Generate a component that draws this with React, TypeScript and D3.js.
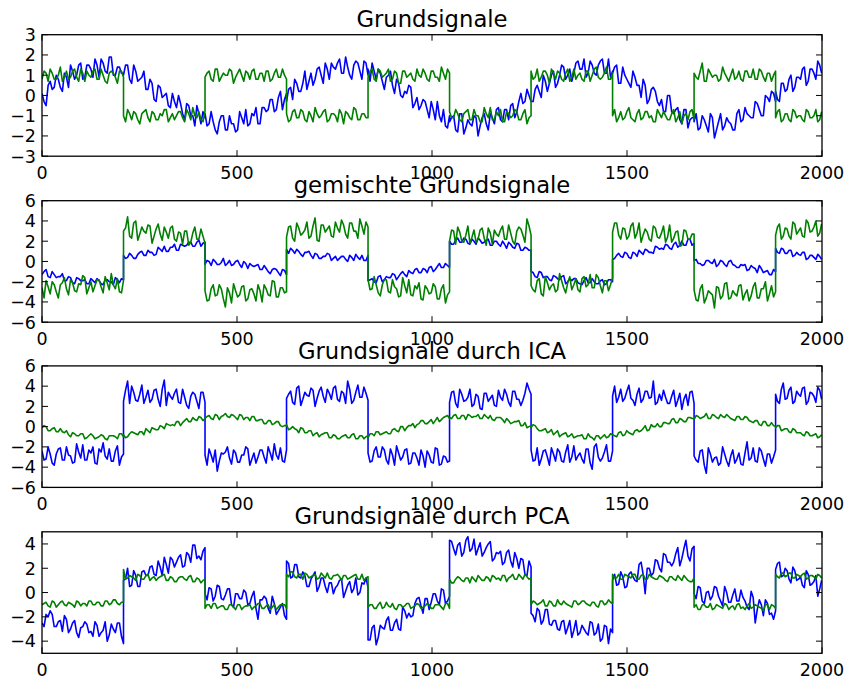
import React from "react";
import * as d3 from "d3";

// Sample indices where the square-wave source flips sign; every series is
// stored segment by segment between these edges so the jumps stay vertical.
const segmentEdges = [0, 209, 418, 627, 836, 1045, 1254, 1463, 1672, 1881, 1999];

const xTicks = [0, 500, 1000, 1500, 2000];
const xDomain = [0, 2000];

const titles = [
  "Grundsignale",
  "gemischte Grundsignale",
  "Grundsignale durch ICA",
  "Grundsignale durch PCA",
];

const yDomainGrund = [-3, 3];
const yDomainGemischt = [-6, 6];
const yDomainIca = [-6, 6];
const yDomainPca = [-5, 5];

const yTicksGrund = [-3, -2, -1, 0, 1, 2, 3];
const yTicksGemischt = [-6, -4, -2, 0, 2, 4, 6];
const yTicksIca = [-6, -4, -2, 0, 2, 4, 6];
const yTicksPca = [-4, -2, 0, 2, 4];

// Each series: main samples per segment (evenly spaced, both edges included)
// and the in-between samples ("Zw") that sit halfway between them.

// Grundsignale: sine source (blue) and square source (green)
const grundBlau = [
  [0.1, -0.5, 0.7, 0.4, 0.8, 0.2, 0.9, 1.5, 0.8, 1.5, 0.8, 1.5, 1.3, 1.8, 0.9, 1.6, 1.1, 1.9, 1.0, 1.4, 1.1],
  [1.0, 1.5, 0.6, 1.2, 0.8, 1.2, 0.3, 0.6, -0.3, 0.4, 0.0, -0.5, 0.1, -0.6, -0.4, -1.2, -0.5, -1.0, -0.5, -1.4, -1.1],
  [-0.9, -1.4, -1.3, -1.9, -1.0, -1.7, -1.0, -1.4, -1.7, -1.1, -0.7, -1.4, -1.0, -1.4, -0.6, -0.8, -0.2, -0.8, -0.1, -0.7, 0.1],
  [-0.3, 0.4, 0.8, 0.2, 0.6, 0.3, 1.1, 0.8, 1.4, 0.6, 1.3, 1.6, 1.3, 1.8, 1.1, 1.4, 0.8, 1.7, 1.2, 1.7, 1.0],
  [1.3, 1.6, 0.8, 1.1, 0.3, 1.0, 0.5, 0.8, 0.0, 0.2, 0.5, -0.6, -0.1, -0.5, -0.3, -1.1, -0.7, -0.3, -1.3, -1.5, -1.0],
  [-1.3, -1.0, -1.8, -0.9, -1.6, -1.4, -1.0, -2.0, -1.1, -1.4, -0.9, -1.4, -0.6, -1.3, -0.7, -0.5, -1.1, -0.3, -0.4, 0.3, -0.3],
  [-0.3, 0.3, 0.2, 1.0, 0.2, 1.0, 0.4, 1.0, 1.4, 1.0, 0.7, 1.6, 1.3, 1.8, 1.1, 1.5, 1.0, 1.7, 1.1, 1.8, 1.2],
  [1.1, 1.5, 0.6, 1.0, 0.6, 1.2, 0.5, -0.1, 0.5, -0.2, 0.4, -0.3, -0.2, -0.8, 0.0, -0.9, -0.6, -1.4, -0.7, -1.2, -1.1],
  [-1.3, -1.7, -1.0, -1.5, -0.9, -2.1, -1.3, -1.7, -1.1, -1.4, -1.7, -0.7, -1.2, -0.9, -1.1, -0.3, -0.7, -1.0, -0.1, 0.2, -0.3],
  [0.2, -0.3, 0.6, 0.3, 1.0, 0.4, 0.9, 1.3, 0.5, 1.3, 1.1, 1.7, 1.1],
];
const grundBlauZw = [
  [-0.3, 0.5, 0.3, 1.0, 0.4, 1.1, 0.4, 1.2, 1.0, 1.6, 0.9, 1.5, 0.9, 1.5, 1.8, 1.2, 1.9, 1.0, 1.4, 1.1],
  [1.5, 0.8, 1.5, 0.7, 0.9, 0.3, 0.8, -0.2, 0.5, -0.1, 0.1, -0.6, -0.3, 0.0, -0.9, -0.4, -1.0, -1.5, -0.9, -0.8],
  [-1.5, -0.8, -1.7, -1.3, -1.0, -1.7, -1.4, -1.8, -0.8, -1.4, -1.5, -0.9, -0.6, -1.4, -0.6, -0.7, -0.2, -0.7, 0.2, -0.2],
  [0.3, -0.2, 0.6, 0.2, 1.2, 0.7, 0.5, 1.3, 1.0, 1.6, 0.8, 1.4, 1.6, 1.1, 1.9, 1.0, 1.5, 1.6, 0.8, 1.6],
  [0.7, 1.2, 1.3, 0.7, 0.9, 1.2, 0.1, 0.6, -0.1, 0.1, 0.4, -0.4, -0.7, -0.2, -0.7, -0.3, -1.2, -1.0, -0.7, -1.6],
  [-1.1, -1.7, -0.9, -1.9, -1.2, -1.5, -1.1, -1.5, -0.9, -1.7, -1.1, -0.7, -1.2, -0.7, -1.2, -0.4, -0.8, 0.1, -0.3, 0.0],
  [-0.3, 0.5, -0.1, 0.7, 0.6, 1.2, 0.6, 1.5, 0.8, 1.3, 1.1, 1.7, 1.3, 0.9, 1.7, 1.1, 1.5, 1.8, 1.1, 0.9],
  [1.4, 0.6, 1.4, 0.8, 0.4, 0.9, 0.5, 0.8, -0.4, 0.3, 0.2, -0.5, -0.8, 0.0, -0.8, -0.7, -1.2, -0.7, -1.6, -1.1],
  [-0.9, -1.6, -1.2, -1.8, -1.1, -1.7, -0.9, -1.5, -1.3, -1.7, -0.9, -1.3, -0.6, -1.0, -1.1, -0.4, -1.0, 0.0, -0.3, 0.1],
  [-0.2, 0.6, 0.2, 0.8, 0.2, 0.9, 0.8, 1.4, 0.7, 1.3, 0.8, 1.5],
];

const grundGruen = [
  [0.8, 1.1, 1.3, 0.8, 1.0, 0.7, 1.2, 0.9, 1.3, 0.7, 1.1, 1.2, 0.9, 1.3, 0.8, 1.0, 0.6, 1.2, 0.9, 1.2, 0.9],
  [-1.0, -0.7, -1.2, -0.9, -1.4, -0.8, -1.1, -0.8, -1.2, -0.9, -0.7, -1.3, -0.9, -1.0, -0.8, -1.3, -0.9, -0.6, -1.1, -1.2, -0.8],
  [0.9, 1.2, 0.7, 1.3, 0.9, 1.0, 1.3, 0.6, 1.1, 1.0, 1.2, 0.8, 1.3, 0.8, 1.1, 1.2, 0.7, 1.1, 0.9, 1.3, 0.8],
  [-0.9, -1.2, -0.7, -1.1, -0.8, -1.3, -1.0, -0.6, -1.1, -0.8, -1.3, -0.9, -1.0, -0.7, -1.4, -0.9, -1.2, -0.7, -1.2, -0.9, -1.1],
  [0.9, 1.3, 0.7, 1.2, 1.0, 1.3, 0.8, 1.1, 0.6, 1.2, 1.0, 0.8, 1.3, 0.9, 1.1, 0.7, 1.2, 0.9, 1.4, 0.8, 1.1],
  [-0.8, -1.1, -0.9, -1.3, -0.8, -1.2, -0.7, -1.0, -1.3, -0.9, -0.6, -1.2, -1.0, -1.3, -0.8, -1.1, -0.7, -1.2, -0.9, -1.4, -1.0],
  [1.2, 0.9, 0.7, 1.2, 1.0, 1.3, 0.8, 1.1, 0.7, 1.3, 0.9, 0.8, 1.1, 0.7, 1.2, 1.0, 1.4, 0.8, 1.1, 0.8, 1.1],
  [-1.0, -1.3, -0.8, -1.1, -0.6, -1.2, -0.9, -1.2, -0.8, -1.1, -1.3, -0.7, -1.1, -1.0, -1.2, -0.7, -1.1, -1.4, -0.9, -0.8, -1.2],
  [1.1, 0.8, 1.6, 0.7, 1.1, 1.0, 0.7, 1.4, 0.9, 1.0, 0.8, 1.2, 0.7, 1.2, 0.9, 0.8, 1.3, 0.9, 1.1, 0.7, 1.2],
  [-1.1, -0.7, -1.2, -0.9, -1.3, -0.8, -1.0, -1.2, -0.7, -1.1, -1.0, -1.3, -0.8],
];
const grundGruenZw = [
  [1.2, 0.7, 1.1, 0.8, 1.4, 0.9, 0.8, 1.2, 0.9, 1.3, 0.7, 1.0, 1.2, 0.8, 1.3, 0.7, 1.1, 1.1, 0.6, 1.2],
  [-1.3, -0.9, -0.8, -1.2, -0.9, -0.7, -1.3, -0.9, -1.2, -1.0, -0.7, -1.1, -1.2, -0.8, -1.1, -0.7, -1.2, -1.0, -0.8, -1.3],
  [1.1, 0.8, 1.3, 0.7, 1.1, 1.0, 1.2, 0.9, 1.3, 0.7, 1.1, 1.2, 0.8, 1.1, 0.7, 1.2, 0.8, 1.3, 0.9, 1.0],
  [-1.3, -0.8, -1.1, -0.7, -1.2, -0.8, -1.3, -0.9, -1.0, -0.7, -1.2, -0.9, -1.3, -0.9, -0.8, -1.1, -0.6, -1.2, -0.9, -1.1],
  [1.2, 0.8, 1.3, 0.9, 1.1, 0.7, 1.2, 0.6, 1.2, 0.9, 1.1, 0.7, 1.0, 1.3, 0.8, 1.2, 0.9, 0.7, 1.1, 1.3],
  [-1.1, -0.7, -1.2, -0.9, -0.7, -1.2, -1.0, -1.3, -0.6, -1.1, -1.2, -0.8, -0.7, -1.3, -0.9, -1.0, -0.8, -1.2, -0.7, -1.1],
  [0.8, 1.3, 0.9, 1.2, 0.6, 1.1, 1.2, 0.8, 1.1, 0.7, 1.3, 1.0, 0.8, 1.2, 0.7, 1.3, 0.9, 0.9, 1.4, 0.8],
  [-0.7, -1.1, -1.2, -0.8, -1.1, -1.3, -0.7, -1.1, -0.8, -1.0, -1.3, -0.9, -0.8, -1.2, -0.9, -1.3, -0.8, -1.0, -1.2, -0.7],
  [0.9, 1.2, 0.7, 1.3, 0.9, 1.0, 0.8, 1.1, 0.7, 1.3, 0.9, 0.8, 1.2, 0.9, 1.3, 0.8, 1.2, 0.7, 1.1, 1.0],
  [-0.8, -1.3, -0.9, -1.2, -0.7, -1.1, -1.0, -1.3, -0.8, -1.1, -0.7, -1.2],
];

// gemischte Grundsignale: the two observed mixtures
const gemischtBlau = [
  [-1.3, -0.8, -1.6, -1.3, -1.5, -1.2, -1.9, -1.6, -2.2, -1.7, -1.9, -2.2, -1.7, -2.1, -1.9, -2.3, -1.8, -2.0, -1.6, -2.1, -1.8],
  [0.6, 0.4, 0.6, 0.3, 0.9, 0.6, 1.1, 0.9, 0.7, 1.2, 1.5, 1.0, 1.4, 1.1, 1.7, 1.5, 1.9, 1.5, 1.9, 1.5, 1.9],
  [-0.3, 0.0, 0.2, -0.3, -0.1, -0.4, 0.1, -0.3, 0.1, -0.6, -0.2, -0.2, -0.5, -0.3, -0.8, -0.7, -1.2, -0.7, -1.1, -0.8, -1.3],
  [1.2, 1.3, 0.8, 1.0, 0.5, 0.9, 0.6, 0.8, 0.3, 0.5, 0.8, 0.1, 0.5, 0.3, 0.5, 0.0, 0.4, 0.7, 0.2, 0.1, 0.6],
  [-1.9, -1.7, -2.1, -1.4, -1.8, -1.6, -1.2, -1.8, -1.2, -1.3, -0.9, -1.2, -0.7, -1.1, -0.8, -0.6, -1.0, -0.5, -0.6, -0.2, -0.6],
  [2.0, 1.7, 2.3, 1.9, 2.2, 1.7, 2.0, 2.3, 1.8, 2.1, 1.6, 2.0, 1.7, 2.0, 1.3, 1.7, 1.3, 1.7, 1.1, 1.3, 1.1],
  [-1.0, -1.5, -1.0, -1.6, -1.5, -1.9, -1.5, -1.8, -1.4, -2.0, -1.9, -1.7, -2.2, -1.9, -2.1, -1.7, -2.2, -1.9, -2.3, -1.8, -2.0],
  [0.2, 0.6, 0.5, 0.9, 0.4, 0.9, 0.5, 0.9, 1.2, 0.9, 0.8, 1.4, 1.3, 1.7, 1.3, 1.7, 1.4, 2.0, 1.6, 2.2, 1.8],
  [0.1, -0.2, -0.4, 0.1, -0.1, 0.2, -0.3, 0.0, -0.5, 0.1, -0.4, -0.6, -0.4, -0.9, -0.4, -0.7, -0.4, -1.1, -0.9, -1.3, -1.0],
  [1.3, 0.8, 1.2, 0.8, 1.1, 0.6, 0.7, 0.9, 0.2, 0.6, 0.4, 0.7, 0.2],
];
const gemischtBlauZw = [
  [-1.0, -1.5, -1.0, -1.6, -1.5, -1.9, -1.5, -2.1, -1.6, -1.9, -1.8, -2.2, -1.9, -1.7, -2.2, -1.8, -2.0, -2.3, -1.8, -1.7],
  [0.3, 0.8, 0.3, 0.7, 1.0, 0.6, 0.9, 0.6, 1.4, 1.0, 1.0, 1.4, 1.7, 1.1, 1.6, 1.6, 1.9, 1.5, 2.1, 1.8],
  [0.1, -0.4, 0.0, -0.3, 0.3, -0.2, -0.4, 0.0, -0.3, 0.0, -0.7, -0.4, -0.4, -0.8, -0.4, -1.0, -0.8, -0.8, -1.4, -0.9],
  [0.8, 1.1, 1.2, 0.7, 0.9, 1.0, 0.3, 0.7, 0.3, 0.5, 0.7, 0.3, 0.1, 0.5, 0.2, 0.6, 0.1, 0.4, 0.6, 0.1],
  [-1.8, -2.0, -1.5, -2.0, -1.5, -1.6, -1.3, -1.5, -1.0, -1.5, -1.1, -0.8, -1.1, -0.7, -1.1, -0.5, -0.8, -0.2, -0.6, -0.4],
  [1.7, 2.1, 1.9, 2.3, 1.8, 2.2, 1.7, 2.1, 1.9, 2.2, 1.6, 2.0, 1.5, 1.7, 1.9, 1.4, 1.8, 1.1, 1.4, 1.1],
  [-1.1, -1.6, -1.1, -1.5, -1.8, -1.4, -1.7, -1.5, -2.2, -1.7, -1.7, -2.1, -2.3, -1.6, -2.1, -2.0, -2.2, -1.8, -2.2, -1.8],
  [0.3, 0.8, 0.4, 0.8, 0.3, 0.8, 1.1, 0.7, 1.1, 0.9, 1.5, 1.2, 1.2, 1.6, 1.2, 1.9, 1.6, 1.6, 2.2, 1.6],
  [0.2, -0.2, -0.3, 0.1, -0.2, -0.5, 0.1, -0.3, 0.0, -0.3, -0.6, -0.3, -0.3, -0.8, -0.6, -1.1, -0.7, -1.0, -1.3, -0.8],
  [0.9, 1.3, 0.8, 1.1, 0.5, 0.9, 0.6, 0.9, 0.3, 0.6, 0.2, 0.5],
];

const gemischtGruen = [
  [-2.6, -1.9, -3.2, -2.3, -3.6, -2.1, -2.7, -1.8, -2.9, -2.2, -1.4, -3.2, -2.0, -2.4, -1.8, -3.1, -2.1, -1.2, -2.7, -3.0, -1.9],
  [3.0, 4.4, 2.3, 4.0, 2.7, 3.0, 3.6, 1.8, 3.2, 2.7, 3.4, 2.3, 3.5, 2.0, 2.8, 3.0, 1.6, 2.8, 2.2, 3.2, 1.8],
  [-2.9, -3.8, -2.3, -3.3, -2.7, -4.5, -3.1, -2.2, -3.5, -2.5, -3.9, -2.8, -3.2, -2.3, -4.0, -2.7, -3.4, -2.0, -3.5, -2.6, -3.0],
  [2.4, 3.5, 2.0, 3.3, 2.8, 3.9, 2.5, 4.3, 2.0, 3.6, 3.2, 2.5, 3.9, 2.9, 3.6, 2.3, 3.8, 3.0, 4.2, 2.7, 3.4],
  [-1.8, -2.7, -2.3, -3.4, -1.8, -3.0, -1.8, -2.7, -3.4, -2.4, -1.8, -3.4, -2.7, -3.7, -2.4, -3.2, -2.2, -3.7, -2.7, -4.1, -3.0],
  [2.0, 3.0, 3.4, 2.0, 2.6, 1.8, 3.1, 2.2, 3.3, 1.6, 2.8, 3.1, 2.5, 3.5, 2.2, 2.8, 1.7, 3.4, 2.6, 4.2, 2.6],
  [-2.4, -3.0, -1.7, -3.4, -2.1, -2.4, -3.0, -1.2, -2.6, -2.1, -2.8, -1.7, -3.0, -1.5, -2.3, -2.6, -1.3, -2.4, -1.9, -2.9, -1.6],
  [2.9, 3.8, 2.2, 3.2, 2.5, 3.8, 2.8, 1.9, 3.2, 2.2, 3.5, 2.4, 2.8, 1.9, 3.6, 2.3, 3.0, 1.6, 3.0, 2.2, 2.7],
  [-2.8, -3.9, -2.3, -3.6, -3.1, -4.6, -2.6, -3.4, -2.1, -3.6, -3.2, -2.4, -3.8, -2.8, -3.4, -2.1, -3.6, -2.7, -3.9, -2.4, -3.0],
  [2.6, 3.7, 2.5, 3.2, 2.2, 3.7, 3.0, 2.5, 4.1, 2.9, 3.4, 2.5, 3.7],
];
const gemischtGruenZw = [
  [-3.6, -2.5, -2.0, -3.0, -2.3, -1.6, -3.3, -2.1, -3.0, -2.3, -1.6, -2.6, -3.0, -1.8, -2.5, -1.5, -2.8, -2.3, -1.7, -3.1],
  [3.3, 2.5, 3.8, 2.1, 3.4, 2.8, 3.5, 2.5, 3.7, 2.1, 2.9, 3.3, 2.2, 2.9, 1.7, 3.0, 1.9, 3.4, 2.2, 2.5],
  [-3.9, -2.7, -3.4, -2.3, -3.7, -2.6, -4.1, -2.9, -3.3, -2.4, -3.7, -2.7, -3.9, -2.9, -2.3, -3.3, -1.9, -3.5, -2.6, -3.1],
  [3.4, 2.3, 3.8, 2.6, 3.1, 2.3, 3.5, 2.1, 3.6, 2.9, 3.5, 2.4, 3.3, 4.1, 2.7, 3.8, 3.0, 2.3, 3.5, 3.9],
  [-2.8, -1.5, -3.1, -2.3, -1.8, -3.1, -2.5, -3.5, -1.6, -3.1, -3.3, -2.4, -2.1, -3.8, -2.7, -3.1, -2.5, -3.7, -2.3, -3.3],
  [3.1, 1.7, 2.9, 1.9, 3.5, 2.4, 1.9, 3.1, 2.3, 3.3, 1.7, 2.7, 3.1, 2.2, 3.6, 2.0, 3.0, 3.2, 1.9, 3.5],
  [-2.8, -1.9, -3.2, -1.5, -2.8, -2.2, -2.8, -1.9, -3.1, -1.5, -2.3, -2.8, -1.7, -2.5, -1.3, -2.6, -1.6, -3.1, -1.9, -2.3],
  [3.8, 2.6, 3.3, 2.2, 3.5, 2.3, 3.8, 2.6, 2.9, 2.0, 3.3, 2.3, 3.5, 2.4, 1.9, 2.9, 1.5, 3.1, 2.2, 2.7],
  [-3.8, -2.7, -4.1, -2.9, -3.3, -2.5, -3.7, -2.2, -3.7, -2.9, -3.4, -2.3, -3.2, -3.9, -2.5, -3.6, -2.7, -2.0, -3.2, -3.5],
  [3.4, 2.2, 3.3, 2.5, 3.9, 2.7, 3.3, 2.4, 3.8, 3.0, 4.0, 2.8],
];

// Grundsignale durch ICA: recovered components
const icaBlau = [
  [-2.4, -3.2, -2.7, -3.8, -2.2, -3.3, -2.0, -2.9, -3.5, -2.5, -1.8, -3.3, -2.6, -3.6, -2.2, -1.6, -3.2, -3.4, -2.4, -3.8, -2.7],
  [2.5, 4.5, 4.0, 2.6, 3.2, 2.3, 3.6, 2.7, 3.7, 2.0, 4.6, 3.4, 2.7, 3.7, 2.3, 2.9, 1.8, 3.4, 2.5, 3.4, 2.4],
  [-2.8, -2.2, -3.5, -4.4, -2.6, -2.5, -3.1, -2.3, -3.5, -2.8, -2.0, -3.8, -2.6, -3.0, -2.3, -3.6, -2.6, -1.7, -3.2, -3.4, -2.3],
  [2.8, 3.5, 2.2, 4.0, 2.7, 3.1, 3.8, 2.0, 3.5, 3.0, 3.7, 2.7, 4.0, 2.5, 3.3, 4.5, 2.3, 3.4, 2.9, 3.9, 2.6],
  [-2.6, -3.4, -2.0, -3.0, -2.3, -3.7, -2.8, -1.9, -3.3, -2.3, -3.7, -2.6, -3.1, -2.3, -4.0, -2.8, -3.6, -2.2, -3.7, -3.0, -3.4],
  [2.4, 3.5, 1.9, 3.2, 2.6, 3.7, 2.2, 3.0, 1.7, 3.3, 2.8, 2.1, 3.6, 2.6, 3.2, 2.0, 3.5, 2.7, 2.6, 4.3, 3.2],
  [-2.3, -3.3, -3.8, -2.4, -3.0, -2.1, -3.4, -2.5, -3.5, -1.8, -3.0, -3.3, -2.6, -3.6, -2.2, -4.2, -1.7, -3.4, -2.5, -3.4, -2.4],
  [3.0, 2.4, 3.7, 2.8, 4.1, 2.6, 3.2, 2.4, 3.5, 2.8, 4.5, 2.4, 2.6, 2.9, 2.3, 3.6, 2.6, 1.7, 3.2, 3.4, 2.3],
  [-2.9, -3.5, -2.3, -4.6, -2.7, -3.1, -3.8, -2.0, -3.4, -2.9, -3.6, -2.6, -3.8, -1.5, -3.1, -3.4, -2.1, -3.2, -2.7, -3.6, -2.3],
  [3.2, 2.3, 4.3, 2.8, 3.9, 2.5, 3.2, 3.8, 2.2, 3.4, 3.0, 3.9, 2.7],
];
const icaBlauZw = [
  [-3.3, -2.0, -3.6, -2.7, -2.1, -3.3, -2.8, -3.6, -1.7, -3.1, -3.3, -2.3, -2.0, -3.7, -2.5, -2.9, -2.2, -3.4, -1.9, -3.0],
  [3.6, 2.3, 3.4, 2.5, 4.1, 2.9, 2.4, 3.6, 2.7, 3.7, 2.1, 3.0, 3.3, 2.4, 3.7, 2.1, 3.0, 3.2, 1.8, 3.4],
  [-3.8, -2.8, -2.3, -3.4, -2.7, -2.0, -3.7, -2.6, -3.5, -2.8, -2.2, -3.2, -3.6, -2.3, -3.0, -2.0, -3.3, -2.8, -2.1, -3.5],
  [3.2, 2.4, 3.8, 2.1, 3.4, 3.0, 3.6, 2.8, 3.9, 2.4, 3.3, 3.8, 2.7, 3.5, 2.3, 3.7, 2.6, 4.1, 2.9, 3.3],
  [-3.5, -2.4, -3.0, -2.0, -3.3, -2.2, -3.8, -2.6, -3.0, -2.2, -3.6, -2.6, -3.8, -2.9, -2.4, -3.5, -2.1, -3.8, -2.9, -3.5],
  [3.4, 2.3, 3.7, 2.5, 2.9, 2.0, 3.2, 1.8, 3.3, 2.5, 3.1, 2.0, 2.9, 3.7, 2.4, 3.5, 2.7, 2.1, 3.3, 3.7],
  [-3.4, -2.1, -3.2, -2.3, -3.8, -2.7, -2.2, -3.4, -2.5, -3.5, -1.9, -2.9, -3.2, -2.2, -3.6, -2.0, -3.0, -3.1, -1.8, -3.4],
  [4.0, 2.9, 2.5, 3.5, 2.8, 2.1, 3.8, 2.7, 3.5, 2.9, 2.2, 3.2, 3.6, 2.3, 3.0, 2.0, 3.3, 2.7, 2.1, 3.5],
  [-3.3, -2.4, -3.8, -2.1, -3.5, -3.0, -3.6, -2.7, -3.9, -2.3, -3.2, -3.7, -2.6, -3.3, -2.1, -3.5, -2.4, -3.9, -2.7, -3.0],
  [2.5, 3.7, 2.7, 3.6, 2.3, 3.5, 3.0, 3.9, 2.5, 3.3, 2.4, 3.6],
];

const icaGruen = [
  [-0.1, 0.0, -0.4, -0.1, -0.5, -0.5, -0.4, -1.0, -0.7, -0.9, -0.7, -1.1, -0.7, -1.2, -1.0, -0.9, -1.3, -0.9, -1.0, -0.7, -1.0],
  [-0.8, -1.0, -0.5, -0.7, -0.5, -0.8, -0.4, -0.1, -0.3, 0.1, -0.2, 0.2, 0.2, 0.5, 0.1, 0.6, 0.5, 0.9, 0.6, 0.9, 0.8],
  [0.8, 1.1, 0.7, 1.1, 1.0, 1.3, 0.9, 1.1, 0.7, 1.1, 0.9, 0.6, 1.0, 0.6, 0.7, 0.3, 0.6, 0.3, 0.5, 0.0, 0.1],
  [0.2, -0.2, -0.2, -0.6, -0.2, -0.6, -0.4, -0.7, -1.0, -0.7, -0.6, -1.1, -0.9, -1.2, -0.9, -1.1, -0.8, -1.2, -0.9, -1.2, -0.9],
  [-1.1, -0.7, -0.5, -0.8, -0.6, -0.7, -0.3, -0.4, 0.0, -0.4, 0.1, 0.3, 0.2, 0.6, 0.3, 0.5, 0.3, 0.9, 0.7, 1.0, 0.8],
  [0.9, 1.1, 0.8, 1.1, 0.7, 1.1, 1.0, 1.2, 0.8, 1.0, 1.1, 0.6, 0.9, 0.7, 0.8, 0.3, 0.5, 0.6, 0.1, -0.1, 0.1],
  [-0.1, 0.1, -0.4, -0.3, -0.6, -0.3, -0.6, -1.0, -0.7, -1.0, -0.7, -1.0, -0.9, -1.2, -0.7, -1.1, -0.9, -1.2, -0.8, -1.0, -0.8],
  [-0.8, -1.0, -0.5, -0.8, -0.6, -0.8, -0.3, -0.4, 0.1, -0.3, 0.0, 0.3, 0.0, 0.4, 0.3, 0.8, 0.4, 0.7, 0.5, 0.9, 0.8],
  [0.7, 1.0, 0.9, 1.3, 0.8, 1.1, 0.8, 1.0, 1.2, 0.8, 0.6, 1.0, 0.7, 0.9, 0.5, 0.6, 0.2, 0.5, 0.1, 0.4, 0.0],
  [-0.1, 0.1, -0.3, -0.2, -0.6, -0.3, -0.6, -0.8, -0.5, -0.9, -0.8, -1.1, -0.8],
];
const icaGruenZw = [
  [0.1, -0.4, -0.2, -0.5, -0.2, -0.6, -0.8, -0.6, -0.9, -0.7, -1.2, -0.9, -0.9, -1.1, -0.8, -1.2, -0.9, -0.9, -1.2, -0.7],
  [-1.1, -0.7, -0.6, -0.8, -0.5, -0.2, -0.6, -0.2, -0.3, 0.0, 0.3, 0.1, 0.1, 0.5, 0.4, 0.8, 0.5, 0.7, 1.0, 0.6],
  [1.0, 0.8, 1.2, 0.7, 1.1, 1.0, 1.2, 0.9, 1.2, 0.7, 0.9, 1.0, 0.6, 0.7, 0.3, 0.6, 0.2, 0.5, 0.1, 0.1],
  [-0.3, 0.0, -0.3, -0.1, -0.6, -0.4, -0.9, -0.6, -0.8, -0.6, -1.1, -0.8, -1.2, -1.0, -0.8, -1.1, -0.7, -1.2, -0.9, -1.0],
  [-0.7, -0.9, -0.5, -0.7, -0.5, -0.7, -0.2, -0.5, 0.0, -0.1, 0.1, -0.1, 0.3, 0.6, 0.3, 0.7, 0.6, 0.5, 0.9, 1.1],
  [0.8, 1.2, 0.8, 1.1, 1.2, 0.9, 1.0, 0.8, 1.2, 0.8, 0.7, 0.9, 0.9, 0.4, 0.6, 0.4, 0.5, 0.1, 0.4, 0.0],
  [0.2, -0.2, -0.4, -0.2, -0.5, -0.8, -0.4, -0.8, -0.6, -0.9, -1.1, -0.9, -0.8, -1.2, -1.0, -1.3, -0.9, -1.0, -1.1, -0.7],
  [-0.9, -0.6, -0.9, -0.4, -0.7, -0.4, -0.5, -0.2, -0.4, 0.2, 0.0, 0.0, 0.4, 0.3, 0.7, 0.4, 0.8, 0.5, 0.9, 0.8],
  [1.1, 0.8, 1.0, 0.8, 1.2, 0.9, 1.2, 0.9, 1.0, 0.7, 1.0, 0.7, 1.0, 0.6, 0.4, 0.6, 0.1, 0.5, 0.1, 0.1],
  [0.1, -0.4, -0.2, -0.5, -0.2, -0.6, -0.6, -0.9, -0.6, -0.9, -0.7, -1.0],
];

// Grundsignale durch PCA: principal components
const pcaBlau = [
  [-2.5, -1.8, -1.5, -2.8, -2.4, -3.2, -2.2, -3.0, -2.3, -3.7, -2.8, -2.6, -3.2, -2.4, -3.6, -3.1, -4.0, -2.6, -3.3, -2.5, -4.2],
  [1.0, 2.0, 0.6, 1.4, 0.5, 1.8, 1.4, 2.2, 1.4, 2.1, 2.9, 1.6, 2.7, 2.5, 3.1, 2.2, 3.1, 3.9, 2.8, 2.7, 3.7],
  [-0.1, 0.4, -0.7, 0.6, -0.5, -0.2, 0.3, -1.2, -0.1, -0.5, 0.0, -0.9, 0.1, -2.2, -0.6, -0.5, -1.7, -0.9, -1.5, -0.9, -2.2],
  [2.6, 1.2, 2.3, 1.3, 1.7, 0.5, 1.1, 1.7, 0.5, 1.2, 0.0, 0.8, 0.4, 1.0, -0.4, 0.6, 0.0, 1.2, 0.0, 0.7, 0.4],
  [-3.9, -2.9, -4.3, -2.7, -3.0, -2.0, -3.1, -2.2, -3.1, -1.5, -1.7, -1.9, -0.5, -1.1, -0.5, -1.4, -0.1, -0.7, 0.3, -0.9, -0.3],
  [4.3, 3.6, 3.9, 3.0, 4.3, 3.4, 4.4, 3.6, 3.0, 3.7, 4.2, 2.8, 3.2, 2.3, 3.3, 2.6, 3.3, 2.0, 2.7, 1.4, 2.1],
  [-1.7, -2.4, -1.5, -2.3, -1.4, -2.7, -2.3, -3.1, -2.3, -2.9, -3.7, -2.3, -3.3, -3.0, -3.5, -2.5, -3.3, -4.0, -2.7, -4.2, -3.3],
  [1.0, 0.6, 1.7, 0.4, 1.5, 1.3, 0.9, 2.5, -0.1, 2.0, 1.6, 2.6, 1.7, 3.1, 2.5, 2.5, 3.7, 2.8, 4.3, 2.6, 3.8],
  [-0.1, 0.5, -0.7, 0.0, -0.6, 0.5, -0.3, -1.1, 0.0, -0.8, 0.3, -0.7, -0.4, -1.2, 0.1, -2.5, -0.6, -1.9, -0.9, -1.7, -1.5],
  [1.9, 2.5, 1.4, 1.8, 0.8, 1.8, 1.1, 0.6, 1.8, 0.6, 0.9, -0.3, 1.0],
];
const pcaBlauZw = [
  [-2.8, -2.0, -1.8, -2.8, -2.3, -1.9, -3.3, -2.5, -3.3, -2.9, -2.4, -3.3, -3.6, -2.7, -3.3, -2.4, -3.5, -3.0, -2.5, -3.6],
  [1.1, 0.5, 1.8, 0.5, 1.7, 1.4, 2.1, 1.5, 2.6, 1.4, 2.3, 2.9, 2.1, 2.9, 2.1, 3.3, 2.5, 3.9, 3.0, 3.4],
  [-0.6, 0.3, -0.3, 0.5, -0.6, 0.3, -1.0, -0.1, -0.5, 0.2, -1.0, -0.3, -1.3, -0.6, -0.3, -1.3, -0.3, -1.8, -1.2, -1.9],
  [2.4, 1.3, 2.3, 1.2, 1.4, 0.5, 1.4, 0.1, 1.2, 0.5, 0.8, -0.1, 0.6, 1.1, 0.1, 0.9, 0.3, -0.2, 0.8, 1.2],
  [-3.9, -2.7, -3.7, -2.9, -2.3, -3.1, -2.5, -3.0, -1.2, -2.1, -2.0, -0.9, -0.4, -1.7, -0.5, -0.8, -0.1, -1.0, 0.2, -0.7],
  [4.2, 3.1, 4.1, 3.3, 4.6, 3.6, 3.1, 4.1, 3.3, 4.0, 2.6, 3.3, 3.4, 2.5, 3.5, 2.1, 2.8, 2.8, 1.5, 2.6],
  [-1.9, -1.3, -2.6, -1.4, -2.6, -2.3, -3.0, -2.4, -3.4, -2.3, -3.1, -3.5, -2.7, -3.3, -2.4, -3.5, -2.6, -3.8, -2.8, -3.0],
  [1.5, 0.7, 1.3, 0.5, 1.7, 1.0, 2.3, 1.5, 2.0, 1.4, 2.7, 2.0, 3.2, 2.5, 2.2, 3.2, 2.2, 3.6, 3.0, 3.6],
  [-0.5, 0.4, -0.9, 0.1, -0.3, 0.4, -0.7, 0.5, -0.8, -0.2, -0.7, 0.2, -0.7, -1.4, -0.4, -1.4, -1.0, -0.6, -1.8, -2.2],
  [2.4, 1.3, 2.0, 1.1, 2.1, 1.0, 1.3, 0.4, 1.5, 0.7, 1.4, 0.3],
];

const pcaGruen = [
  [-1.0, -0.8, -1.2, -0.8, -1.0, -0.7, -1.1, -0.9, -1.2, -0.8, -0.9, -1.1, -0.7, -1.0, -0.8, -1.1, -0.7, -0.9, -0.6, -1.0, -0.8],
  [1.9, 1.2, 1.3, 1.0, 1.4, 1.1, 1.5, 1.2, 1.0, 1.3, 1.5, 1.0, 1.2, 0.9, 1.3, 1.1, 1.3, 0.9, 1.2, 0.8, 1.1],
  [-1.3, -1.0, -0.9, -1.3, -1.1, -1.4, -1.0, -1.2, -1.0, -1.4, -1.1, -1.0, -1.2, -0.9, -1.3, -1.1, -1.4, -1.0, -1.2, -1.0, -1.3],
  [1.5, 1.7, 1.3, 1.5, 1.1, 1.5, 1.3, 1.5, 1.2, 1.4, 1.6, 1.1, 1.4, 1.3, 1.4, 1.1, 1.3, 1.5, 1.1, 1.0, 1.3],
  [-1.2, -1.0, -1.3, -0.8, -1.2, -1.1, -0.9, -1.4, -1.0, -1.1, -0.9, -1.2, -0.9, -1.3, -1.1, -1.0, -1.3, -1.0, -1.2, -0.9, -1.3],
  [1.1, 0.8, 1.3, 1.0, 1.2, 0.8, 1.1, 1.4, 1.0, 1.3, 0.9, 1.3, 1.2, 1.4, 0.9, 1.3, 1.1, 1.5, 1.1, 1.3, 1.2],
  [-1.0, -0.8, -0.9, -0.6, -1.1, -0.8, -1.1, -0.9, -0.7, -1.0, -1.2, -0.7, -0.9, -0.7, -1.0, -0.8, -1.1, -0.7, -1.0, -0.6, -0.9],
  [1.5, 1.2, 1.1, 1.5, 1.3, 1.5, 1.1, 1.4, 1.1, 1.5, 1.2, 1.1, 1.3, 1.0, 1.3, 1.1, 1.4, 1.0, 1.2, 0.9, 1.2],
  [-1.2, -1.4, -1.0, -1.2, -0.9, -1.3, -1.1, -1.3, -1.0, -1.2, -1.4, -0.9, -1.2, -1.1, -1.3, -1.0, -1.2, -1.5, -1.0, -1.0, -1.3],
  [1.5, 1.2, 1.6, 1.4, 1.6, 1.2, 1.4, 1.5, 1.1, 1.4, 1.3, 1.5, 1.2],
];
const pcaGruenZw = [
  [-0.9, -1.1, -0.7, -1.2, -0.8, -1.0, -0.8, -1.0, -0.7, -1.1, -0.9, -0.7, -1.0, -0.8, -1.1, -0.7, -1.0, -0.6, -0.9, -0.8],
  [1.1, 1.4, 1.2, 1.5, 1.1, 1.4, 1.0, 1.3, 1.2, 1.4, 1.0, 1.3, 0.9, 1.2, 1.3, 1.0, 1.4, 0.9, 1.1, 1.0],
  [-1.0, -1.3, -0.9, -1.2, -1.1, -1.4, -1.0, -1.4, -1.0, -1.2, -1.1, -1.4, -1.1, -0.9, -1.3, -1.0, -1.2, -1.4, -1.0, -1.0],
  [1.3, 1.7, 1.2, 1.5, 1.6, 1.2, 1.4, 1.1, 1.6, 1.2, 1.2, 1.4, 1.5, 1.0, 1.4, 1.2, 1.4, 1.1, 1.5, 1.2],
  [-1.0, -1.3, -1.0, -1.3, -0.8, -1.2, -1.3, -1.0, -1.2, -0.9, -1.3, -1.1, -1.0, -1.2, -0.9, -1.3, -1.0, -1.0, -1.4, -0.9],
  [0.8, 1.1, 1.2, 0.9, 1.2, 1.3, 0.9, 1.2, 1.0, 1.2, 1.4, 1.1, 1.0, 1.4, 1.2, 1.5, 1.1, 1.3, 1.5, 1.1],
  [-0.7, -1.0, -0.8, -1.1, -0.7, -1.1, -0.6, -1.0, -0.9, -1.1, -0.7, -1.0, -0.7, -0.9, -1.1, -0.8, -1.2, -0.7, -0.9, -0.8],
  [1.2, 1.5, 1.1, 1.4, 1.2, 1.5, 1.1, 1.5, 1.1, 1.3, 1.1, 1.4, 1.2, 0.9, 1.3, 1.0, 1.2, 1.4, 1.0, 0.9],
  [-1.0, -1.4, -1.0, -1.2, -1.4, -1.0, -1.2, -0.9, -1.4, -1.1, -1.0, -1.3, -1.4, -0.9, -1.2, -1.1, -1.3, -1.0, -1.4, -1.1],
  [1.3, 1.6, 1.3, 1.6, 1.2, 1.5, 1.3, 1.6, 1.2, 1.4, 1.1, 1.4],
];

const panels = [
  { title: titles[0], domain: yDomainGrund, ticks: yTicksGrund, blue: [grundBlau, grundBlauZw], green: [grundGruen, grundGruenZw] },
  { title: titles[1], domain: yDomainGemischt, ticks: yTicksGemischt, blue: [gemischtBlau, gemischtBlauZw], green: [gemischtGruen, gemischtGruenZw] },
  { title: titles[2], domain: yDomainIca, ticks: yTicksIca, blue: [icaBlau, icaBlauZw], green: [icaGruen, icaGruenZw] },
  { title: titles[3], domain: yDomainPca, ticks: yTicksPca, blue: [pcaBlau, pcaBlauZw], green: [pcaGruen, pcaGruenZw] },
];

// Layout
const WIDTH = 848;
const HEIGHT = 679;
const PLOT_LEFT = 42;
const PLOT_RIGHT = 822;
const PLOT_H = 121.5;
const PLOT_TOPS = [34.7, 200.7, 365.9, 531.8];
const TICK_LEN = 6;
const TICK_FONT = 17.5;
const TITLE_FONT = 22.7;
const LINE_W = 1.6;
const FONT = "'DejaVu Sans', 'Liberation Sans', sans-serif";

const BLUE = "#0000ff";
const GREEN = "#008000";

type Pt = [number, number];

// Merge main samples and in-between samples of each segment into one polyline.
function toPoints([main, between]: number[][][]): Pt[] {
  const pts: Pt[] = [];
  main.forEach((row, k) => {
    const a = segmentEdges[k];
    const b = segmentEdges[k + 1];
    const steps = row.length - 1;
    const mid = between[k] || [];
    row.forEach((v, j) => {
      pts.push([a + ((b - a) * j) / steps, v]);
      if (j < steps && mid[j] !== undefined) {
        pts.push([a + ((b - a) * (j + 0.5)) / steps, mid[j]]);
      }
    });
  });
  return pts;
}

const fmt = (v: number) => (v < 0 ? "\u2212" + Math.abs(v) : String(v));

function Panel({
  idx,
  top,
  title,
  domain,
  ticks,
  blue,
  green,
}: {
  idx: number;
  top: number;
  title: string;
  domain: number[];
  ticks: number[];
  blue: number[][][];
  green: number[][][];
}) {
  const x = d3.scaleLinear().domain(xDomain).range([PLOT_LEFT, PLOT_RIGHT]);
  const y = d3.scaleLinear().domain(domain).range([top + PLOT_H, top]);
  const line = d3
    .line<Pt>()
    .x((d) => x(d[0]))
    .y((d) => y(d[1]));
  const bottom = top + PLOT_H;
  const clipId = `plot-clip-${idx}`;

  return (
    <g>
      <clipPath id={clipId}>
        <rect x={PLOT_LEFT} y={top} width={PLOT_RIGHT - PLOT_LEFT} height={PLOT_H} />
      </clipPath>
      <g clipPath={`url(#${clipId})`}>
        <path d={line(toPoints(blue)) || ""} fill="none" stroke={BLUE} strokeWidth={LINE_W} strokeLinejoin="round" />
        <path d={line(toPoints(green)) || ""} fill="none" stroke={GREEN} strokeWidth={LINE_W} strokeLinejoin="round" />
      </g>

      {/* inward ticks on all four sides */}
      <g stroke="#000" strokeWidth={1}>
        {xTicks.map((t) => (
          <g key={`xt${t}`}>
            <line x1={x(t)} x2={x(t)} y1={bottom} y2={bottom - TICK_LEN} />
            <line x1={x(t)} x2={x(t)} y1={top} y2={top + TICK_LEN} />
          </g>
        ))}
        {ticks.map((t) => (
          <g key={`yt${t}`}>
            <line x1={PLOT_LEFT} x2={PLOT_LEFT + TICK_LEN} y1={y(t)} y2={y(t)} />
            <line x1={PLOT_RIGHT} x2={PLOT_RIGHT - TICK_LEN} y1={y(t)} y2={y(t)} />
          </g>
        ))}
      </g>

      <rect
        x={PLOT_LEFT}
        y={top}
        width={PLOT_RIGHT - PLOT_LEFT}
        height={PLOT_H}
        fill="none"
        stroke="#000"
        strokeWidth={1.3}
      />

      <g fontFamily={FONT} fontSize={TICK_FONT} fill="#000">
        {xTicks.map((t) => (
          <text key={`xl${t}`} x={x(t)} y={bottom + 22.7} textAnchor="middle">
            {fmt(t)}
          </text>
        ))}
        {ticks.map((t) => (
          <text key={`yl${t}`} x={PLOT_LEFT - 6} y={y(t) + TICK_FONT * 0.36} textAnchor="end">
            {fmt(t)}
          </text>
        ))}
      </g>

      <text
        x={(PLOT_LEFT + PLOT_RIGHT) / 2}
        y={top - 7.4}
        textAnchor="middle"
        fontFamily={FONT}
        fontSize={TITLE_FONT}
        fill="#000"
      >
        {title}
      </text>
    </g>
  );
}

export default function App() {
  return (
    <svg
      width={WIDTH}
      height={HEIGHT}
      viewBox={`0 0 ${WIDTH} ${HEIGHT}`}
      style={{ position: "absolute", left: 0, top: 0, background: "#fff" }}
    >
      <rect x={0} y={0} width={WIDTH} height={HEIGHT} fill="#fff" />
      {panels.map((p, i) => (
        <Panel key={p.title} idx={i} top={PLOT_TOPS[i]} {...p} />
      ))}
    </svg>
  );
}
